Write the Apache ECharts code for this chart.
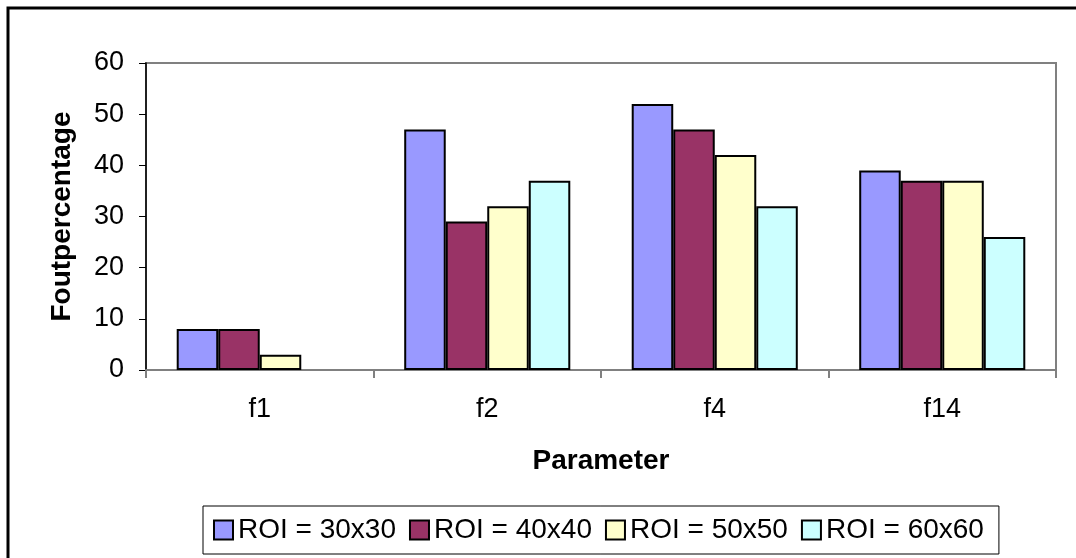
<!DOCTYPE html>
<html>
<head>
<meta charset="utf-8">
<script src="https://cdn.jsdelivr.net/npm/echarts@6/dist/echarts.min.js"></script>
<style>
html,body{margin:0;padding:0;background:#fff;}
#c{width:1076px;height:558px;}
</style>
</head>
<body>
<div id="c"></div>
<script>
const categories = ['f1', 'f2', 'f4', 'f14'];
const seriesNames = ['ROI = 30x30', 'ROI = 40x40', 'ROI = 50x50', 'ROI = 60x60'];
const roi30 = [8, 47, 52, 39];
const roi40 = [8, 29, 47, 37];
const roi50 = [3, 32, 42, 37];
const roi60 = [0, 37, 32, 26];
const colors = ['#9999FF', '#993366', '#FFFFCC', '#CCFFFF'];
const yTicks = [0, 10, 20, 30, 40, 50, 60];

const font = '"Liberation Sans", Arial, sans-serif';
const allData = [roi30, roi40, roi50, roi60];

const chart = echarts.init(document.getElementById('c'), null, {renderer: 'canvas'});
chart.setOption({
  animation: false,
  backgroundColor: '#fff',
  graphic: [{
    type: 'rect',
    shape: {x: 8, y: 8, width: 1200, height: 700},
    style: {fill: 'none', stroke: '#000', lineWidth: 3},
    silent: true
  }],
  grid: {
    left: 146, top: 63, right: 20, bottom: 188,
    show: true, borderColor: '#808080', borderWidth: 2, backgroundColor: '#fff'
  },
  legend: {
    left: 203, top: 506,
    orient: 'horizontal',
    itemWidth: 19, itemHeight: 19, itemGap: 13,
    padding: [10, 15, 10, 10],
    borderColor: '#000', borderWidth: 1,
    icon: 'rect',
    textStyle: {fontFamily: font, fontSize: 28, color: '#000', padding: [0, 0, 0, 0]},
    data: seriesNames
  },
  xAxis: {
    type: 'category',
    data: categories,
    name: 'Parameter',
    nameLocation: 'middle',
    nameGap: 77,
    nameTextStyle: {fontFamily: font, fontSize: 28, fontWeight: 'bold', color: '#000'},
    axisLine: {lineStyle: {color: '#808080', width: 2}},
    axisTick: {show: true, length: 8, lineStyle: {color: '#808080', width: 2}},
    axisLabel: {fontFamily: font, fontSize: 27, color: '#000', margin: 26}
  },
  yAxis: {
    type: 'value',
    min: yTicks[0], max: yTicks[yTicks.length - 1], interval: 10,
    name: 'Foutpercentage',
    nameLocation: 'middle',
    nameGap: 70,
    nameTextStyle: {fontFamily: font, fontSize: 28, fontWeight: 'bold', color: '#000'},
    axisLine: {show: true, lineStyle: {color: '#000', width: 1.5}},
    axisTick: {show: true, length: 7, lineStyle: {color: '#000', width: 1}},
    axisLabel: {fontFamily: font, fontSize: 27, color: '#000', margin: 22},
    splitLine: {show: false}
  },
  series: seriesNames.map((n, i) => ({
    name: n,
    type: 'bar',
    data: allData[i].map(v => v === 0 ? {value: v, itemStyle: {borderWidth: 0}} : v),
    barGap: '0%',
    barCategoryGap: '27%',
    itemStyle: {color: colors[i], borderColor: '#000', borderWidth: 2}
  }))
});
</script>
</body>
</html>
